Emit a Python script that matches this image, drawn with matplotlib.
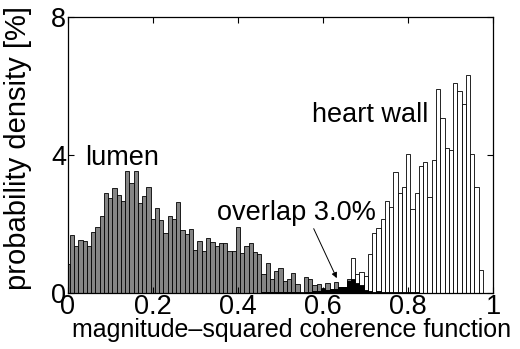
import numpy as np
import matplotlib
matplotlib.use("Agg")
import matplotlib.pyplot as plt

plt.rcParams['font.family'] = ['Liberation Sans', 'DejaVu Sans']

# bin centres 0.00 ... 1.00, step 0.01
centers = np.round(np.arange(0, 101) * 0.01, 2)

# probability density per bin [%]
lumen = np.zeros(101)
lumen[:83] = [
    0.84, 1.69, 1.35, 1.55, 1.50, 1.35, 1.77, 1.91, 2.24, 2.90,
    2.75, 3.04, 2.85, 2.66, 3.55, 3.19, 3.55, 2.61, 2.80, 3.07,
    2.15, 2.46, 2.13, 1.74, 2.24, 2.15, 2.63, 1.84, 1.71, 1.86,
    1.26, 1.50, 1.21, 1.59, 1.48, 1.35, 1.45, 1.45, 1.21, 1.21,
    1.90, 1.15, 1.37, 1.44, 1.20, 1.12, 0.54, 0.86, 0.41, 0.64,
    0.73, 0.36, 0.40, 0.59, 0.25, 0.03, 0.45, 0.41, 0.23, 0.26,
    0.14, 0.30, 0.12, 0.31, 0.16, 0.16, 0.40, 0.40, 0.30, 0.23,
    0.10, 0.05, 0.04, 0.05, 0.03, 0.04, 0.03, 0.02, 0.03, 0.03,
    0.02, 0.02, 0.03,
]

heart = np.zeros(101)
heart[46:98] = [
    0.03, 0.03, 0.03, 0.03, 0.03, 0.03, 0.03,
    0.02, 0.03, 0.00, 0.03, 0.03, 0.06, 0.06, 0.12, 0.10, 0.12,
    0.12, 0.16, 0.16, 0.36, 1.00, 0.55, 0.62, 0.49, 1.12, 1.75,
    1.87, 2.14, 2.67, 2.50, 3.52, 2.89, 3.06, 4.02, 2.43, 2.89,
    3.69, 3.81, 2.79, 3.87, 5.91, 5.06, 4.21, 4.16, 6.10, 5.86,
    5.48, 6.32, 4.03, 3.07, 0.67,
]

overlap = np.minimum(lumen, heart)

fig = plt.figure(figsize=(5.2, 3.49), dpi=100)
ax = fig.add_axes([0.130, 0.1605, 0.819, 0.7905])

w = 0.01
m = lumen > 0
ax.bar(centers[m], lumen[m], width=w, color='0.52', edgecolor='black', linewidth=0.6)
m = heart > 0
ax.bar(centers[m], heart[m], width=w, color='white', edgecolor='black', linewidth=0.6)
m = overlap > 0
ax.bar(centers[m], overlap[m], width=w, color='black', edgecolor='black', linewidth=0.6)

ax.set_xlim(0, 1)
ax.set_ylim(0, 8)
ax.set_xticks([0, 0.2, 0.4, 0.6, 0.8, 1])
ax.set_xticklabels(['0', '0.2', '0.4', '0.6', '0.8', '1'])
ax.set_yticks([0, 4, 8])
ax.tick_params(direction='in', top=True, right=True, length=4, width=0.8,
               labelsize=19.5, pad=1)
for s in ax.spines.values():
    s.set_linewidth(0.9)

ax.set_xlabel('magnitude\u2013squared coherence function', fontsize=18)
ax.xaxis.set_label_coords(0.527, -0.092)
ax.set_ylabel('probability density [%]', fontsize=21)
ax.yaxis.set_label_coords(-0.083, 0.527)

ax.text(0.041, 3.71, 'lumen', fontsize=19.5, va='baseline')
ax.text(0.575, 4.96, 'heart wall', fontsize=19.5, va='baseline')
ax.annotate('overlap %.1f%%' % overlap.sum(), xy=(0.632, 0.43), xytext=(0.351, 2.12),
            fontsize=19.5, va='baseline',
            arrowprops=dict(arrowstyle='-|>', color='black', lw=0.7,
                            mutation_scale=8, shrinkA=0, shrinkB=0,
                            relpos=(0.6, 0)))

fig.savefig('out.png', dpi=100)
